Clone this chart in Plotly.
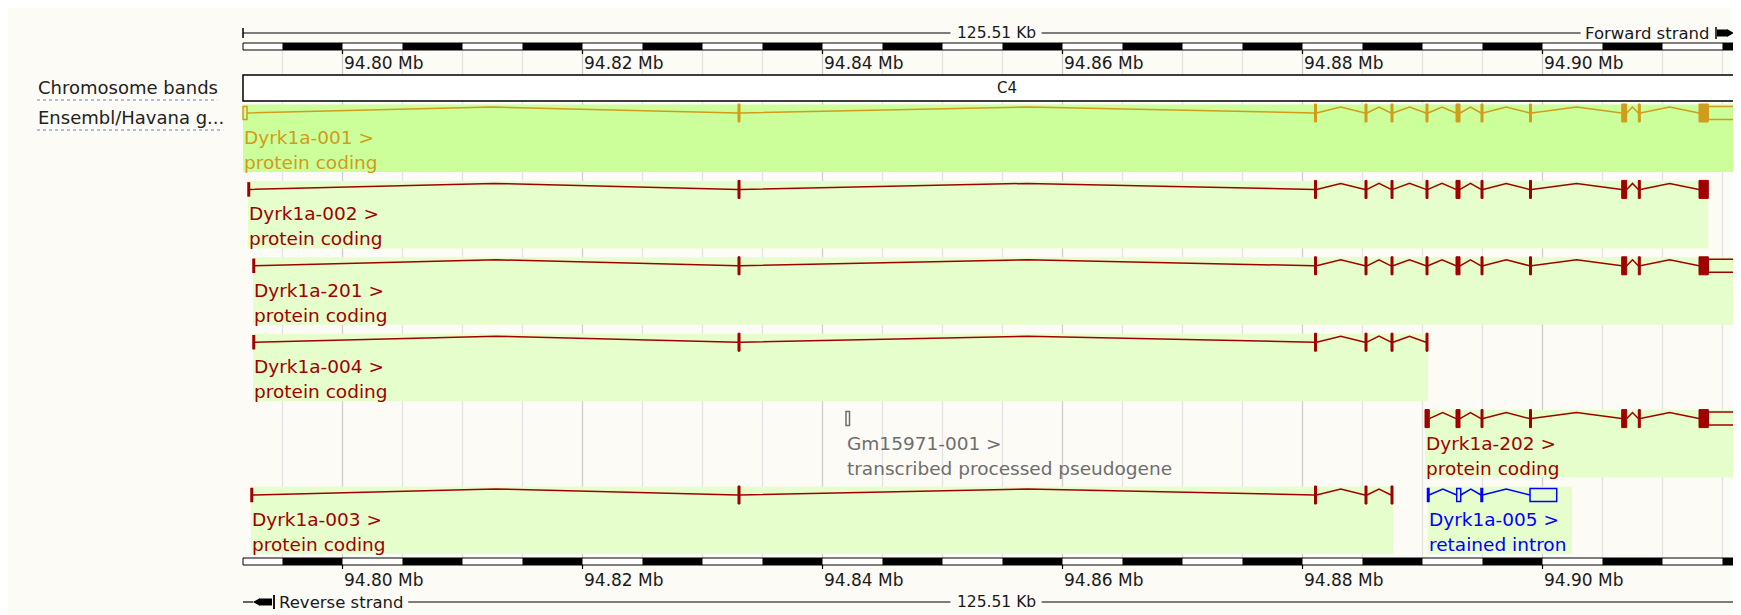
import math
import plotly.graph_objects as go

# ---------------- data ----------------
view_start_mb = 94.791708
view_length_kb = 125.51
ruler_ticks_mb = [94.80, 94.82, 94.84, 94.86, 94.88, 94.90]
ruler_tick_labels = ["94.80 Mb", "94.82 Mb", "94.84 Mb", "94.86 Mb", "94.88 Mb", "94.90 Mb"]
length_label = "125.51 Kb"
band_names = ["C4"]
track_names = ["Chromosome bands", "Ensembl/Havana g..."]
strand_labels = ["Forward strand", "Reverse strand"]

transcript_ids = ["Dyrk1a-001", "Dyrk1a-002", "Dyrk1a-201", "Dyrk1a-004",
                  "Gm15971-001", "Dyrk1a-202", "Dyrk1a-003", "Dyrk1a-005"]
transcript_biotypes = ["protein coding", "protein coding", "protein coding", "protein coding",
                       "transcribed processed pseudogene", "protein coding", "protein coding",
                       "retained intron"]
transcript_rows = [0, 1, 2, 3, 4, 4, 5, 5]

# exon coordinates (Mb) and coding flag (1 = coding / filled, 0 = UTR / hollow)
dyrk1a_001_start = [94.791708, 94.832958, 94.881000, 94.885208, 94.887375, 94.890292, 94.892792,
                    94.894875, 94.898917, 94.906600, 94.907983, 94.913042, 94.913817]
dyrk1a_001_end = [94.792042, 94.833125, 94.881167, 94.885375, 94.887542, 94.890458, 94.893125,
                  94.895042, 94.899083, 94.907017, 94.908150, 94.913817, 94.919625]
dyrk1a_001_coding = [0, 1, 1, 1, 1, 1, 1, 1, 1, 1, 1, 1, 0]

dyrk1a_002_start = [94.792125, 94.832958, 94.881000, 94.885208, 94.887375, 94.890292, 94.892792,
                    94.894875, 94.898917, 94.906600, 94.907983, 94.913042]
dyrk1a_002_end = [94.792250, 94.833125, 94.881167, 94.885375, 94.887542, 94.890458, 94.893125,
                  94.895042, 94.899083, 94.907017, 94.908150, 94.913817]
dyrk1a_002_coding = [0, 1, 1, 1, 1, 1, 1, 1, 1, 1, 1, 1]

dyrk1a_201_start = [94.792542, 94.832958, 94.881000, 94.885208, 94.887375, 94.890292, 94.892792,
                    94.894875, 94.898917, 94.906600, 94.907983, 94.913042, 94.913817]
dyrk1a_201_end = [94.792667, 94.833125, 94.881167, 94.885375, 94.887542, 94.890458, 94.893125,
                  94.895042, 94.899083, 94.907017, 94.908150, 94.913817, 94.919625]
dyrk1a_201_coding = [0, 1, 1, 1, 1, 1, 1, 1, 1, 1, 1, 1, 0]

dyrk1a_004_start = [94.792542, 94.832958, 94.881000, 94.885208, 94.887375, 94.890292]
dyrk1a_004_end = [94.792667, 94.833125, 94.881167, 94.885375, 94.887542, 94.890458]
dyrk1a_004_coding = [0, 1, 1, 1, 1, 1]

gm15971_001_start = [94.841958]
gm15971_001_end = [94.842250]
gm15971_001_coding = [0]

dyrk1a_202_start = [94.890208, 94.892792, 94.894875, 94.898917, 94.906600, 94.907983,
                    94.913042, 94.913817]
dyrk1a_202_end = [94.890567, 94.893125, 94.895042, 94.899083, 94.907017, 94.908150,
                  94.913817, 94.919625]
dyrk1a_202_coding = [1, 1, 1, 1, 1, 1, 1, 0]

dyrk1a_003_start = [94.792375, 94.832958, 94.881000, 94.885208, 94.887375]
dyrk1a_003_end = [94.792500, 94.833125, 94.881167, 94.885375, 94.887542]
dyrk1a_003_coding = [0, 1, 1, 1, 1]

dyrk1a_005_start = [94.890417, 94.892850, 94.894875, 94.898958]
dyrk1a_005_end = [94.890542, 94.893183, 94.895000, 94.901183]
dyrk1a_005_coding = [0, 0, 0, 0]

exon_starts = [dyrk1a_001_start, dyrk1a_002_start, dyrk1a_201_start, dyrk1a_004_start,
               gm15971_001_start, dyrk1a_202_start, dyrk1a_003_start, dyrk1a_005_start]
exon_ends = [dyrk1a_001_end, dyrk1a_002_end, dyrk1a_201_end, dyrk1a_004_end,
             gm15971_001_end, dyrk1a_202_end, dyrk1a_003_end, dyrk1a_005_end]
exon_coding = [dyrk1a_001_coding, dyrk1a_002_coding, dyrk1a_201_coding, dyrk1a_004_coding,
               gm15971_001_coding, dyrk1a_202_coding, dyrk1a_003_coding, dyrk1a_005_coding]

# ---------------- styles / layout ----------------
W, H = 1741, 615
OFF = 8  # the page body margin that offsets the figure in the browser
PX_PER_MB = 12000.0
X0_MB = 94.80 - 342.5 / PX_PER_MB
FONT = "DejaVu Sans"
PAGE_BG = "#fcfbf6"
GOLD, RED, BLUE, GREY = "#d19b1c", "#a00000", "#0000ff", "#6e6e6e"
HL1, HL2 = "#ccff99", "#e6fdcc"
tx_color = [GOLD, RED, RED, RED, GREY, RED, RED, BLUE]
tx_bg = [HL1, HL2, HL2, HL2, None, HL2, HL2, HL2]
ROW_Y0, ROW_PITCH = 113.0, 76.4
LABEL_SIZE = 18.5
TICK_SIZE = 17

DJV = {' ': .318, '-': .361, '.': .318, '/': .337, '>': .838,
       'a': .613, 'b': .635, 'c': .550, 'd': .635, 'e': .615, 'f': .352, 'g': .635, 'h': .634,
       'i': .278, 'j': .278, 'k': .579, 'l': .278, 'm': .974, 'n': .634, 'o': .612, 'p': .635,
       'q': .635, 'r': .411, 's': .521, 't': .392, 'u': .634, 'v': .592, 'w': .818, 'x': .592,
       'y': .592, 'z': .525, 'C': .698, 'D': .770, 'E': .632, 'F': .575, 'G': .775, 'H': .752,
       'K': .656, 'M': .863, 'R': .695}


def text_w(s, size):
    return sum(DJV.get(ch, .636) for ch in s) * size


def px2mb(p):
    return X0_MB + p / PX_PER_MB


def mb2px(m):
    return (m - X0_MB) * PX_PER_MB


def row_y(r):
    return ROW_Y0 + ROW_PITCH * r


view_end_mb = view_start_mb + view_length_kb / 1000.0
vs_px, ve_px = mb2px(view_start_mb), mb2px(view_end_mb)

shapes, annotations, traces = [], [], []


def line(x0, y0, x1, y1, color="#000", width=1.0, dash=None, layer="above"):
    d = dict(type="line", xref="x", yref="y", x0=x0, y0=y0, x1=x1, y1=y1,
             line=dict(color=color, width=width), layer=layer)
    if dash:
        d["line"]["dash"] = dash
    shapes.append(d)


def rect(x0, y0, x1, y1, fill, lc=None, lw=0, layer="above"):
    shapes.append(dict(type="rect", xref="x", yref="y", x0=x0, y0=y0, x1=x1, y1=y1,
                       fillcolor=fill, line=dict(color=lc or fill, width=lw), layer=layer))


def text(x, y, s, size, color="#1a1a1a", xanchor="left"):
    annotations.append(dict(x=x, y=y, xref="x", yref="y", text=s, showarrow=False,
                            xanchor=xanchor, yanchor="middle", borderpad=0,
                            font=dict(family=FONT, size=size, color=color)))


# ---- gridlines every 5 kb ----
m = math.ceil(view_start_mb / 0.005) * 0.005
grid_mb = []
while m < view_end_mb:
    grid_mb.append(round(m, 3))
    m += 0.005
for g in grid_mb:
    major = abs(g / 0.02 - round(g / 0.02)) < 1e-6
    line(g, 50, g, 558, color="#cfcfcf" if major else "#e3e3e3", width=1.3, layer="below")

# ---- chromosome band ----
rect(view_start_mb, 75, view_end_mb, 101, "#ffffff", "#000000", 1.5, layer="below")
text((view_start_mb + view_end_mb) / 2, 88, band_names[0], 15)


# ---- scale bars ----
def scale_bar(y0, y1, label_y):
    rect(view_start_mb, y0, view_end_mb, y1, "#ffffff", "#000000", 1)
    for g in grid_mb:
        if round(g / 0.005) % 2 == 1:
            rect(max(g, view_start_mb), y0, min(g + 0.005, view_end_mb), y1, "#000000")
    for t, lab in zip(ruler_ticks_mb, ruler_tick_labels):
        line(t, y1, t, y1 + 4, width=1.2)
        text(t, label_y, lab, TICK_SIZE, xanchor="left")


scale_bar(43, 50, 63)
scale_bar(558, 565, 580)

# ---- rulers with length label ----
mid_mb = (view_start_mb + view_end_mb) / 2
gap = (text_w(length_label, 15.5) / 2 + 6) / PX_PER_MB


def ruler(y, left_end_px, right_end_px):
    line(px2mb(left_end_px), y, mid_mb - gap, y, width=1.2)
    line(mid_mb + gap, y, px2mb(right_end_px), y, width=1.2)
    text(mid_mb, y, length_label, 15.5, xanchor="center")


# top: forward strand
fw_right = 1711
fw_left = fw_right - text_w(strand_labels[0], 16.5)
ruler(33, vs_px, fw_left - 5)
line(view_start_mb, 28, view_start_mb, 38, width=1.5)
text(px2mb(fw_right), 33, strand_labels[0], 16.5, xanchor="right")
line(px2mb(1716), 27, px2mb(1716), 39, width=1.5)
rect(px2mb(1717), 29.5, px2mb(1727), 36.5, "#000000")
shapes.append(dict(type="path", xref="x", yref="y",
                   path=f"M {px2mb(1727)} 29 L {px2mb(1734)} 33 L {px2mb(1727)} 37 Z",
                   fillcolor="#000000", line=dict(width=0)))
line(px2mb(1734), 33, px2mb(1745), 33, width=1.2)

# bottom: reverse strand
rv_left = vs_px + 35
ruler(602, rv_left + text_w(strand_labels[1], 16.5) + 5, ve_px)
text(px2mb(rv_left), 602, strand_labels[1], 16.5, xanchor="left")
line(view_start_mb, 602, px2mb(vs_px + 10), 602, width=1.2)
shapes.append(dict(type="path", xref="x", yref="y",
                   path=f"M {px2mb(vs_px + 10)} 602 L {px2mb(vs_px + 17)} 598 L {px2mb(vs_px + 17)} 606 Z",
                   fillcolor="#000000", line=dict(width=0)))
rect(px2mb(vs_px + 17), 598.5, px2mb(vs_px + 29), 605.5, "#000000")
line(px2mb(vs_px + 31), 595, px2mb(vs_px + 31), 609, width=1.8)

# ---- track names on the left ----
for name, y in zip(track_names, [87, 117]):
    text(px2mb(37), y, name, 18, color="#222222")
    line(px2mb(37), y + 13, px2mb(37 + text_w(name, 18)), y + 13, color="#5b86c5",
         width=1.2, dash="dot")

# ---- transcripts ----
for i, tid in enumerate(transcript_ids):
    c = row_y(transcript_rows[i])
    col = tx_color[i]
    st, en, cod = exon_starts[i], exon_ends[i], exon_coding[i]
    label1 = tid + " >"
    label2 = transcript_biotypes[i]
    # highlight background
    if tx_bg[i]:
        lw = max(text_w(label1, 18), text_w(label2, 18)) + 10
        x1 = max(en[-1], st[0] + lw / PX_PER_MB)
        rect(st[0], c - 8.5, x1, c + 59, tx_bg[i], layer="below")
    # introns (hats)
    xs, ys = [], []
    for k in range(len(st) - 1):
        if st[k + 1] - en[k] > 1e-7:
            xs += [en[k], (en[k] + st[k + 1]) / 2, st[k + 1], None]
            ys += [c, c - 6, c, None]
    if xs:
        traces.append(go.Scatter(x=xs, y=ys, mode="lines", line=dict(color=col, width=1.5),
                                 hoverinfo="skip", showlegend=False))
    # exons
    for s, e, cd in zip(st, en, cod):
        if cd:
            rect(s, c - 9, e, c + 9, col, col, 1)
        else:
            hh = 7 if tid.startswith("Gm") else 6.5
            rect(s, c - hh, e, c + hh, "rgba(0,0,0,0)", col, 1.5)
    text(st[0], c + 24.5, label1, LABEL_SIZE, color=col)
    text(st[0], c + 49.5, label2, LABEL_SIZE, color=col)

fig = go.Figure(traces)
fig.update_layout(
    width=W, height=H, margin=dict(l=0, r=0, t=0, b=0),
    paper_bgcolor=PAGE_BG, plot_bgcolor=PAGE_BG,
    xaxis=dict(range=[px2mb(OFF), px2mb(OFF + W)], visible=False, fixedrange=True),
    yaxis=dict(range=[OFF + H, OFF], visible=False, fixedrange=True),
    shapes=shapes, annotations=annotations, showlegend=False,
)
fig.write_html("out.html")
